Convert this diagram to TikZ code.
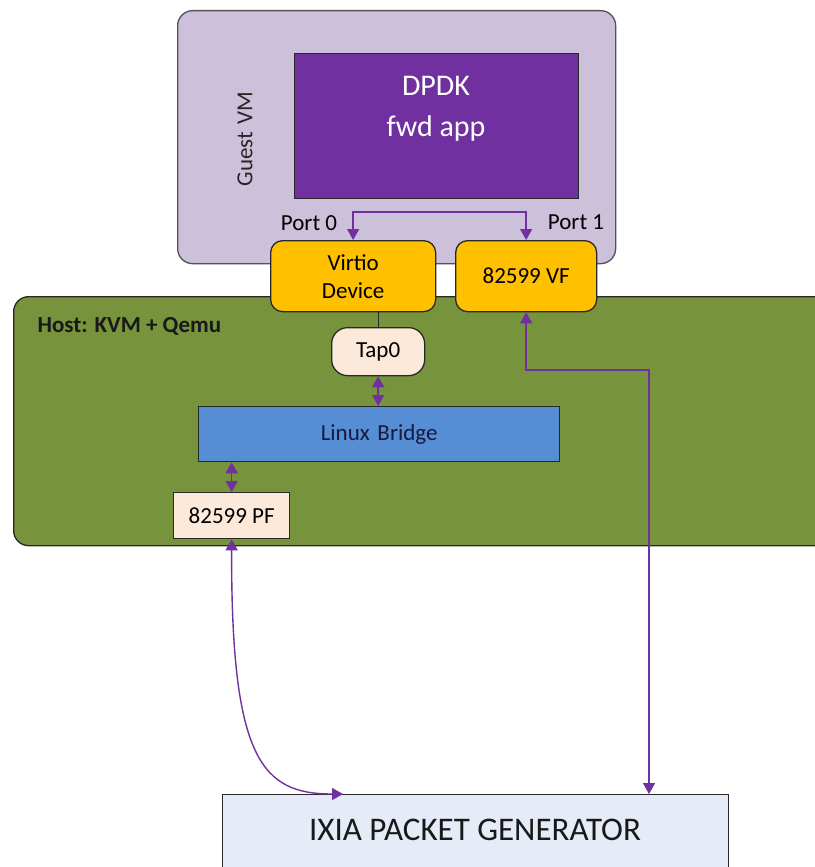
\documentclass[tikz,border=0pt]{standalone}
\usepackage{fontspec}
\setmainfont{Carlito}
\usetikzlibrary{arrows.meta}
\definecolor{vmfill}{RGB}{204,192,218}
\definecolor{dpdkc}{RGB}{112,48,160}
\definecolor{yel}{RGB}{255,192,0}
\definecolor{hostg}{RGB}{119,147,60}
\definecolor{peach}{RGB}{253,233,217}
\definecolor{bridgec}{RGB}{85,142,213}
\definecolor{ixiac}{RGB}{229,236,247}
\definecolor{arrowc}{RGB}{112,48,160}
\definecolor{navytxt}{RGB}{25,25,60}
\definecolor{bordc}{RGB}{40,40,40}
\begin{document}
\begin{tikzpicture}[x=1pt,y=-1pt,
  box/.style={draw=bordc, line width=1.3pt, inner sep=0pt, anchor=north west, align=center},
  lbl/.style={font=\fontsize{23}{28}\selectfont, align=center},
  link/.style={draw=arrowc, line width=1.4pt, {Triangle[length=11pt,width=12pt]}-{Triangle[length=11pt,width=12pt]}}]
\useasboundingbox (0,0) rectangle (814,867);

% Guest VM
\node[box, rounded corners=15pt, fill=vmfill, draw=bordc!80, minimum width=438pt, minimum height=253pt] (vm) at (177,10) {};
\node[box, fill=dpdkc, minimum width=284pt, minimum height=145pt] (dpdk) at (294,53) {};
\node[text=white, font=\fontsize{30}{41}\selectfont, align=center] (dpdktxt) at (436,109) {DPDK\\fwd app};
\node[rotate=90, font=\fontsize{23}{26}\selectfont, text=black!85] (gvm) at (245,139) {Guest\,\,VM};

% Host
\node[box, rounded corners=15pt, fill=hostg, minimum width=822pt, minimum height=249pt] (host) at (13,296) {};
\node[font=\bfseries\fontsize{23}{26}\selectfont, anchor=west, text=black!90] (hostlbl) at (34,326) {Host: KVM + Qemu};

% VM ports
\node[box, rounded corners=12pt, fill=yel, minimum width=165pt, minimum height=71pt, lbl] (virtio) at (270,240) {Virtio\\Device};
\node[box, rounded corners=12pt, fill=yel, minimum width=141pt, minimum height=71pt, lbl] (vf) at (455,240) {82599 VF};
\node[lbl] (p0) at (309,223) {Port 0};
\node[lbl] (p1) at (576,222) {Port 1};

% host internals
\node[box, rounded corners=16pt, fill=peach, minimum width=93pt, minimum height=48pt, lbl] (tap) at (331,327) {Tap0};
\node[box, fill=bridgec, minimum width=361pt, minimum height=55pt, lbl, text=navytxt] (bridge) at (198,406) {Linux\,\,Bridge};
\node[box, fill=peach, minimum width=116pt, minimum height=46pt, lbl] (pf) at (173,492) {82599 PF};

% IXIA
\node[box, fill=ixiac, minimum width=506pt, minimum height=80pt] (ixia) at (222,794) {};
\node[font=\fontsize{33}{38}\selectfont, text=black!90] (ixiatxt) at (475,830) {IXIA PACKET GENERATOR};

\coordinate (bend) at (649,370);
\coordinate (ixr) at (649,794);
\coordinate (ixl) at (343,794);

% connectors
\draw[link] (virtio.north) -- ++(0,-28) -| (vf.north);
\draw[line width=1pt, draw=bordc] (tap.north) -- (tap.north |- virtio.south);
\draw[link] (tap.south) -- (tap.south |- bridge.north);
\draw[link] (pf.north) -- (pf.north |- bridge.south);
\draw[link] (vf.south) |- (bend) -- (ixr);
\draw[link] (pf.south) .. controls (231,760) and (262,794) .. (ixl);
\end{tikzpicture}
\end{document}
